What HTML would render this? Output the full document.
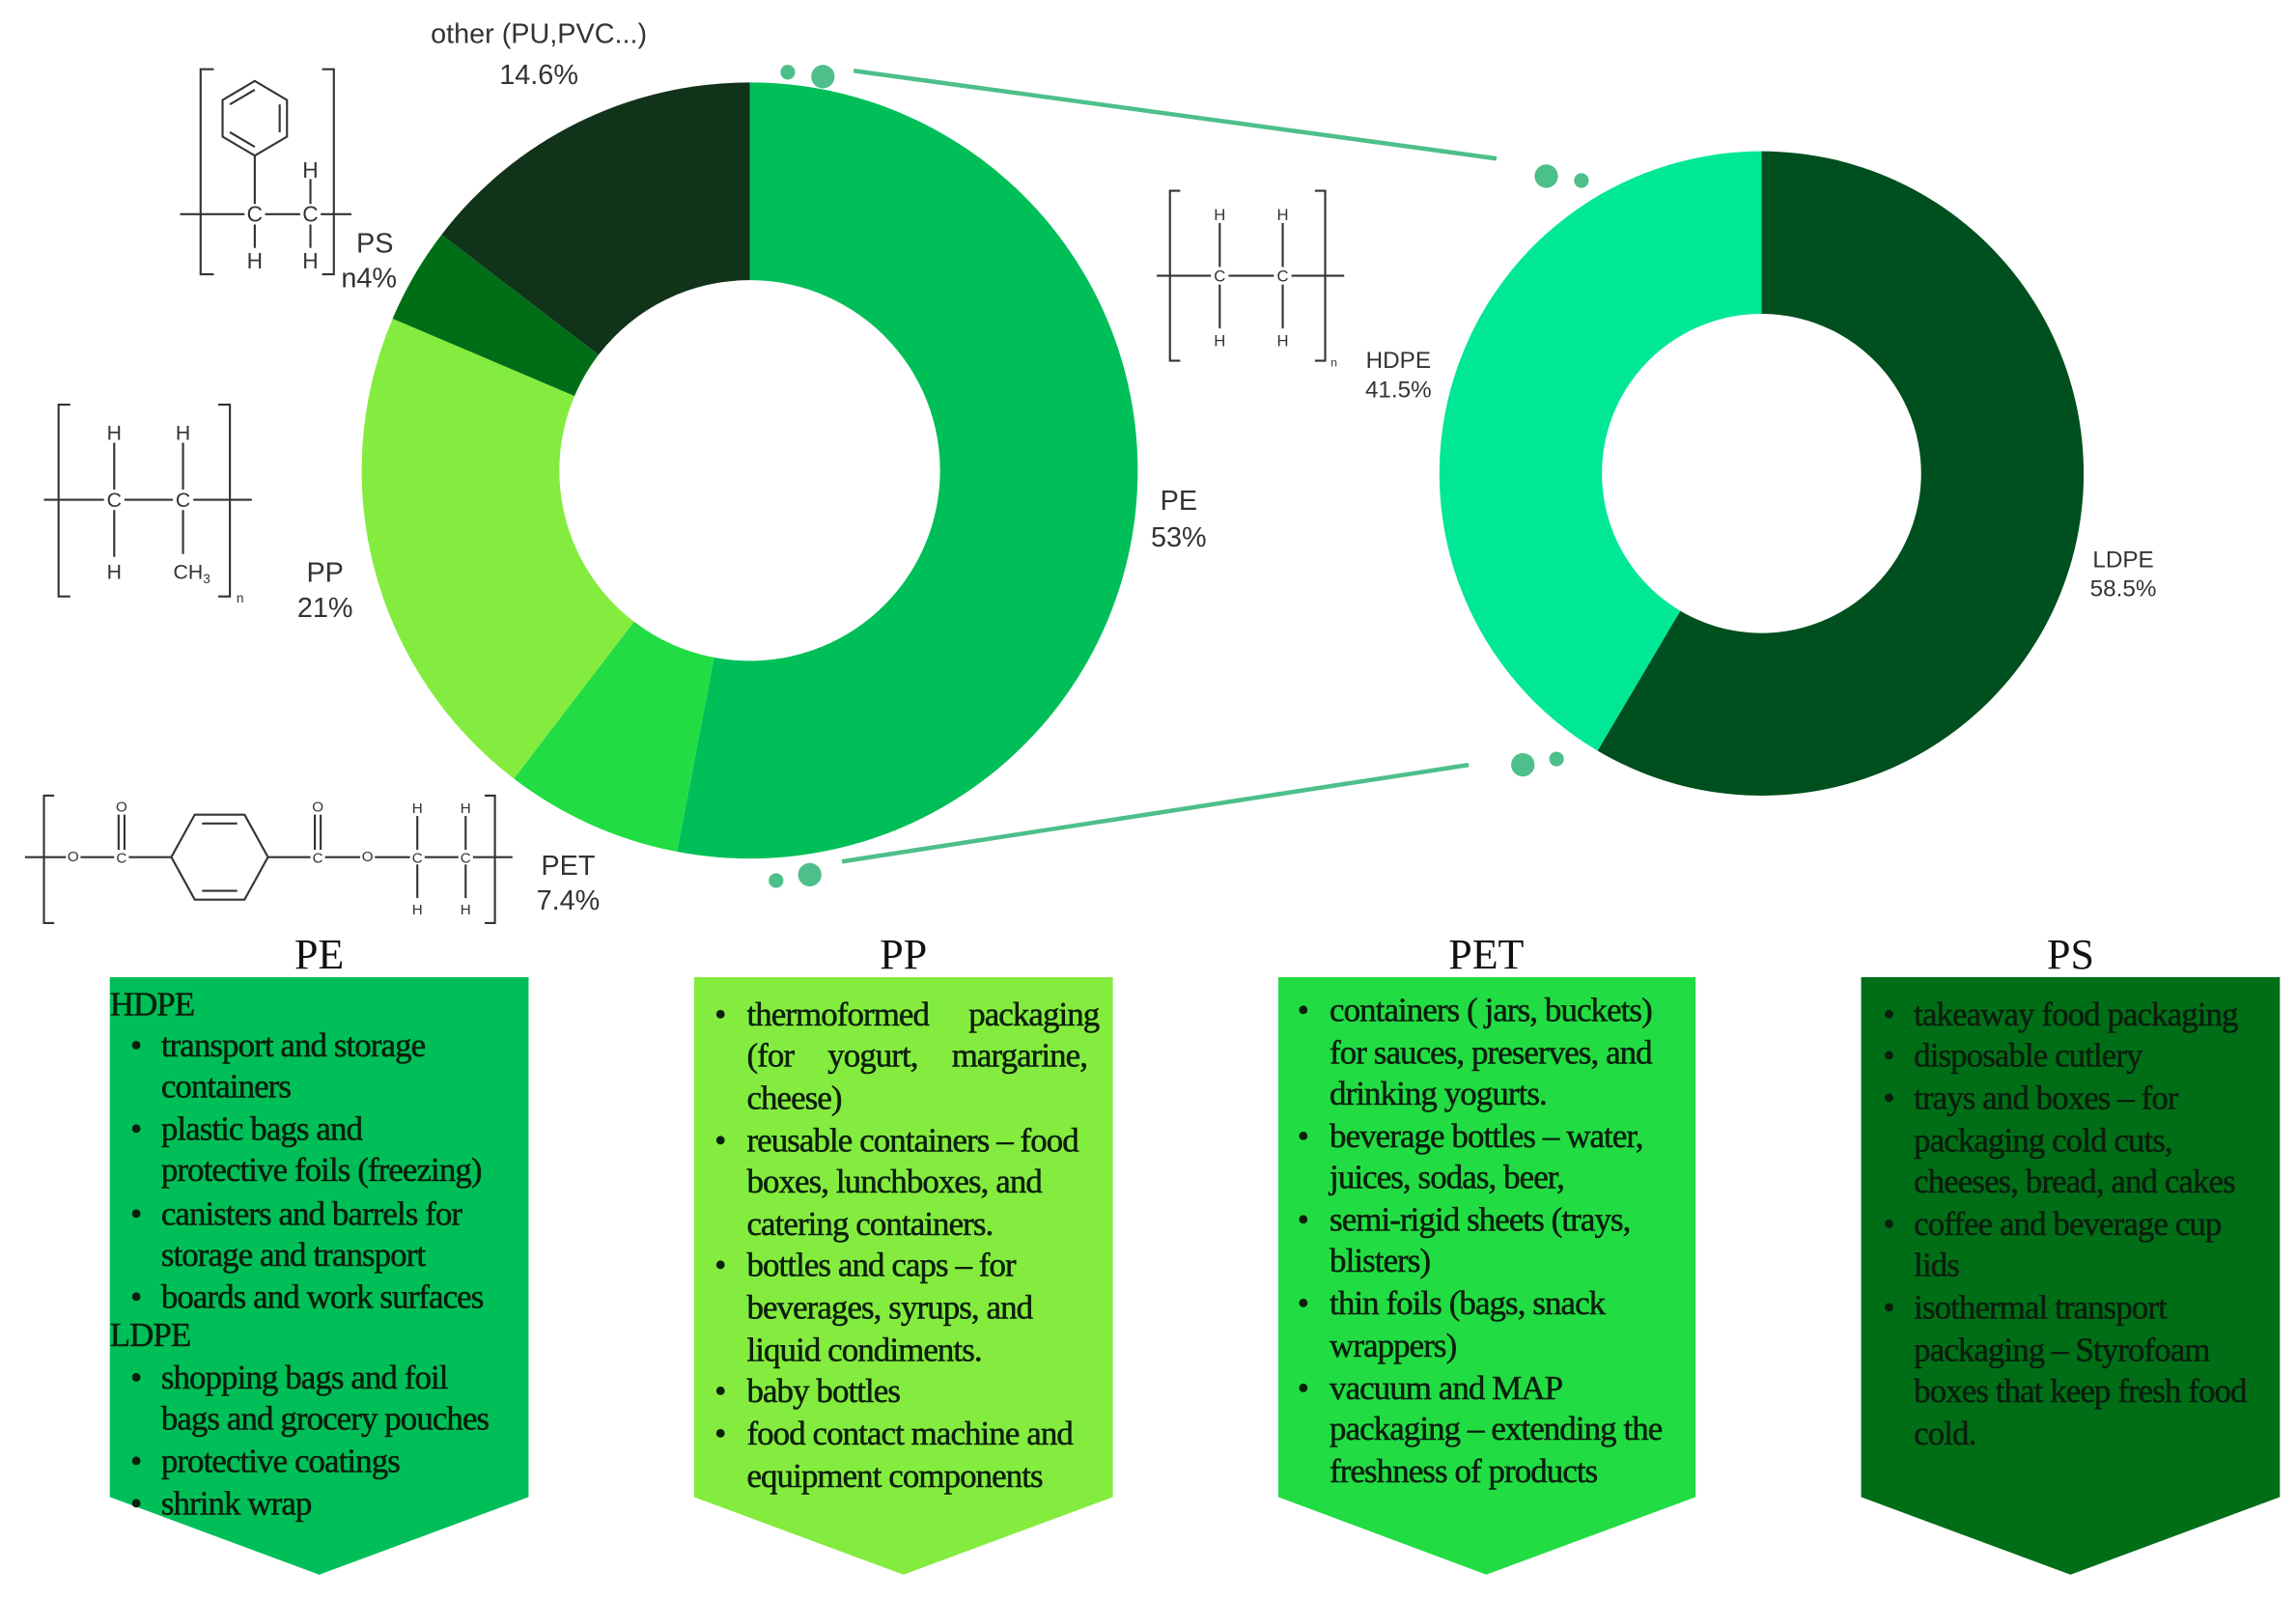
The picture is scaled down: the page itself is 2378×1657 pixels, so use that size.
<!DOCTYPE html>
<html><head><meta charset="utf-8"><style>
html,body{margin:0;padding:0;background:#fff}
svg{display:block}
.s{font-family:"Liberation Sans",sans-serif;fill:#333}
.c{font-family:"Liberation Sans",sans-serif;fill:#333;text-anchor:middle}
.t{font-family:"Liberation Serif",serif;font-size:23px;fill:#0a1f0c;stroke:#0a1f0c;stroke-width:0.35;letter-spacing:-0.6px}
.h{font-family:"Liberation Serif",serif;font-size:29px;fill:#111;text-anchor:middle}
.m{stroke:#333;stroke-width:1.4;fill:none}
</style></head><body>
<svg width="2378" height="1657" viewBox="0 0 1568 1092" xmlns="http://www.w3.org/2000/svg">
<g id="d1"></g><g id="d2"></g>
<g fill="#4dbf8a" stroke="#4dbf8a">
<line x1="583" y1="48" x2="1022" y2="108" stroke-width="3"/>
<line x1="575" y1="588" x2="1003" y2="522" stroke-width="3"/>
<circle cx="538" cy="49" r="5" stroke="none"/><circle cx="562" cy="52" r="8" stroke="none"/>
<circle cx="1056" cy="120" r="8" stroke="none"/><circle cx="1080" cy="123" r="5" stroke="none"/>
<circle cx="530" cy="601" r="5" stroke="none"/><circle cx="553" cy="597" r="8" stroke="none"/>
<circle cx="1040" cy="522" r="8" stroke="none"/><circle cx="1063" cy="518" r="5" stroke="none"/>
</g>
<g class="s" font-size="19" text-anchor="middle">
<text x="368" y="29">other (PU,PVC...)</text><text x="368" y="57">14.6%</text>
<text x="805" y="348">PE</text><text x="805" y="373">53%</text>
<text x="222" y="397">PP</text><text x="222" y="421">21%</text>
<text x="256" y="172">PS</text><text x="252" y="196">n4%</text>
<text x="388" y="597">PET</text><text x="388" y="621">7.4%</text>
</g>
<g class="s" font-size="16" text-anchor="middle">
<text x="955" y="251">HDPE</text><text x="955" y="271">41.5%</text>
<text x="1450" y="387">LDPE</text><text x="1450" y="407">58.5%</text>
</g>
<!-- PS structure -->
<path class="m" d="M146,47 H137 V187 H146 M220,47 H228 V187 H220"/>
<polygon class="m" points="174,55 196,68 196,93 174,106 152,93 152,68"/>
<path class="m" d="M157,71 L174,61 M191,71 V90 M157,90 L174,100"/>
<path class="m" d="M174,106 V139 M123,146 H167 M181,146 H205 M219,146 H240 M212,122 V139 M174,153 V169 M212,153 V169"/>
<g class="c" style="font-size:15px"><text x="174" y="151">C</text><text x="212" y="151">C</text>
<text x="212" y="121">H</text><text x="174" y="183">H</text><text x="212" y="183">H</text></g>
<!-- PP structure -->
<path class="m" d="M48,276 H40 V407 H48 M149,276 H157 V407 H149"/>
<path class="m" d="M30,341 H71 M85,341 H118 M132,341 H172 M78,302 V334 M125,302 V334 M78,348 V380 M125,348 V378"/>
<g class="c" style="font-size:14px"><text x="78" y="346">C</text><text x="125" y="346">C</text>
<text x="78" y="300">H</text><text x="125" y="300">H</text>
<text x="78" y="395">H</text><text x="131" y="395">CH<tspan style="font-size:9px" dy="3">3</tspan></text></g>
<text class="c" style="font-size:9px" x="164" y="411">n</text>
<!-- PE structure -->
<path class="m" d="M806,130 H799 V246 H806 M898,130 H905 V246 H898"/>
<path class="m" d="M790,188 H827 M839,188 H870 M882,188 H918 M833,152 V182 M876,152 V182 M833,194 V224 M876,194 V224"/>
<g class="c" style="font-size:11px"><text x="833" y="192">C</text><text x="876" y="192">C</text>
<text x="833" y="150">H</text><text x="876" y="150">H</text>
<text x="833" y="236">H</text><text x="876" y="236">H</text></g>
<text class="c" style="font-size:8px" x="911" y="250">n</text>
<!-- PET structure -->
<path class="m" d="M37,543 H30 V630 H37 M331,543 H338 V630 H331"/>
<polygon class="m" points="117,585 133,556 167,556 183,585 167,614 133,614"/>
<path class="m" d="M138,562 H162 M138,608 H162"/>
<path class="m" d="M17,585 H45 M55,585 H78 M88,585 H117 M183,585 H212 M222,585 H246 M256,585 H280 M290,585 H313 M323,585 H350 M81,556 V580 M85,556 V580 M215,556 V580 M219,556 V580 M285,557 V580 M318,557 V580 M285,590 V613 M318,590 V613"/>
<g class="c" style="font-size:10px"><text x="50" y="588">O</text><text x="83" y="589">C</text><text x="83" y="554">O</text>
<text x="217" y="589">C</text><text x="217" y="554">O</text><text x="251" y="588">O</text>
<text x="285" y="589">C</text><text x="318" y="589">C</text>
<text x="285" y="555">H</text><text x="318" y="555">H</text>
<text x="285" y="624">H</text><text x="318" y="624">H</text></g>
<!-- boxes -->
<polygon fill="#00bf58" points="75,667 361,667 361,1022 218,1075 75,1022"/>
<polygon fill="#84ec3e" points="474,667 760,667 760,1022 617,1075 474,1022"/>
<polygon fill="#22dc44" points="873,667 1158,667 1158,1022 1015,1075 873,1022"/>
<polygon fill="#006e17" points="1271,667 1557,667 1557,1022 1414,1075 1271,1022"/>
<text class="h" x="218" y="661">PE</text><text class="h" x="617" y="661">PP</text>
<text class="h" x="1015" y="661">PET</text><text class="h" x="1414" y="661">PS</text>
<g class="t">
<text x="75" y="693">HDPE</text>
<text x="89" y="721">•</text><text x="110" y="721">transport and storage</text>
<text x="110" y="749">containers</text>
<text x="89" y="778">•</text><text x="110" y="778">plastic bags and</text>
<text x="110" y="806">protective foils (freezing)</text>
<text x="89" y="836">•</text><text x="110" y="836">canisters and barrels for</text>
<text x="110" y="864">storage and transport</text>
<text x="89" y="893">•</text><text x="110" y="893">boards and work surfaces</text>
<text x="75" y="919">LDPE</text>
<text x="89" y="948">•</text><text x="110" y="948">shopping bags and foil</text>
<text x="110" y="976">bags and grocery pouches</text>
<text x="89" y="1005">•</text><text x="110" y="1005">protective coatings</text>
<text x="89" y="1034">•</text><text x="110" y="1034">shrink wrap</text>

<text x="488" y="700">•</text><text x="510" y="700" word-spacing="22">thermoformed packaging</text>
<text x="510" y="728" word-spacing="18">(for yogurt, margarine,</text>
<text x="510" y="757">cheese)</text>
<text x="488" y="786">•</text><text x="510" y="786">reusable containers – food</text>
<text x="510" y="814">boxes, lunchboxes, and</text>
<text x="510" y="843">catering containers.</text>
<text x="488" y="871">•</text><text x="510" y="871">bottles and caps – for</text>
<text x="510" y="900">beverages, syrups, and</text>
<text x="510" y="929">liquid condiments.</text>
<text x="488" y="957">•</text><text x="510" y="957">baby bottles</text>
<text x="488" y="986">•</text><text x="510" y="986">food contact machine and</text>
<text x="510" y="1015">equipment components</text>

<text x="886" y="697">•</text><text x="908" y="697">containers ( jars, buckets)</text>
<text x="908" y="726">for sauces, preserves, and</text>
<text x="908" y="754">drinking yogurts.</text>
<text x="886" y="783">•</text><text x="908" y="783">beverage bottles – water,</text>
<text x="908" y="811">juices, sodas, beer,</text>
<text x="886" y="840">•</text><text x="908" y="840">semi-rigid sheets (trays,</text>
<text x="908" y="868">blisters)</text>
<text x="886" y="897">•</text><text x="908" y="897">thin foils (bags, snack</text>
<text x="908" y="926">wrappers)</text>
<text x="886" y="955">•</text><text x="908" y="955">vacuum and MAP</text>
<text x="908" y="983">packaging – extending the</text>
<text x="908" y="1012">freshness of products</text>

<text x="1286" y="700">•</text><text x="1307" y="700">takeaway food packaging</text>
<text x="1286" y="728">•</text><text x="1307" y="728">disposable cutlery</text>
<text x="1286" y="757">•</text><text x="1307" y="757">trays and boxes – for</text>
<text x="1307" y="786">packaging cold cuts,</text>
<text x="1307" y="814">cheeses, bread, and cakes</text>
<text x="1286" y="843">•</text><text x="1307" y="843">coffee and beverage cup</text>
<text x="1307" y="871">lids</text>
<text x="1286" y="900">•</text><text x="1307" y="900">isothermal transport</text>
<text x="1307" y="929">packaging – Styrofoam</text>
<text x="1307" y="957">boxes that keep fresh food</text>
<text x="1307" y="986">cold.</text>
</g>
</svg>
<script>
function seg(cx,cy,R,r,a0,a1,col){
 function p(rad,a){var t=(a-90)*Math.PI/180;return [cx+rad*Math.cos(t),cy+rad*Math.sin(t)];}
 var l=(a1-a0)>180?1:0,A=p(R,a0),B=p(R,a1),C=p(r,a1),D=p(r,a0);
 return '<path fill="'+col+'" d="M'+A+' A'+R+','+R+' 0 '+l+' 1 '+B+' L'+C+' A'+r+','+r+' 0 '+l+' 0 '+D+' Z"/>';
}
function donut(id,cx,cy,R,r,parts){
 var a=0,h='';parts.forEach(function(q){var b=a+q[0]*3.6;h+=seg(cx,cy,R,r,a,b,q[1]);a=b;});
 document.getElementById(id).outerHTML='<g>'+h+'</g>';
}
donut('d1',512,321,265,130,[[53,'#00bf58'],[7.4,'#22dc44'],[21,'#84ec3e'],[4,'#006e17'],[14.6,'#11331a']]);
donut('d2',1203,323,220,109,[[58.5,'#004f1e'],[41.5,'#00e896']]);
</script>
</body></html>
